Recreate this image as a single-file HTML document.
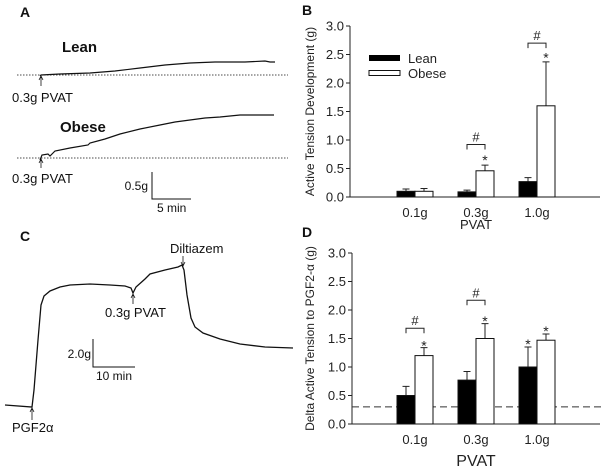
<!DOCTYPE html>
<html><head><meta charset="utf-8"><style>
body{margin:0;background:#fff}
svg{display:block;font-family:"Liberation Sans",sans-serif}
</style></head><body>
<svg id="s" width="605" height="468" viewBox="0 0 605 468">
<!-- Panel A -->
<g fill="#111" stroke="none">
<text x="20" y="17" font-size="14" font-weight="bold">A</text>
<text x="62" y="52" font-size="15" font-weight="bold">Lean</text>
<text x="60" y="132" font-size="15" font-weight="bold">Obese</text>
<text x="12" y="102" font-size="13">0.3g PVAT</text>
<text x="12" y="183" font-size="13">0.3g PVAT</text>
<text x="148" y="190" font-size="12" text-anchor="end">0.5g</text>
<text x="157" y="212" font-size="12">5 min</text>
</g>
<g stroke="#111" fill="none">
<line x1="17" y1="75" x2="288" y2="75" stroke-dasharray="1.5,1.5" stroke-width="0.8"/>
<line x1="17" y1="158" x2="288" y2="158" stroke-dasharray="1.5,1.5" stroke-width="0.8"/>
<polyline stroke-width="1.2" points="40,76 41,75 60,74 90,73 115,71 140,68 165,65 190,63 215,62 245,62 265,61 270,62 275,62"/>
<polyline stroke-width="1.2" points="40,160 42,155 48,154 50,156 55,151 70,148 88,145 90,143 105,139 120,134 140,129 160,125 175,122 190,120 205,118 220,117 240,115 260,115 274,115"/>
<path d="M41,86V77M39,80L41,76L43,80" stroke-width="0.8"/>
<path d="M41,168V160M39,163L41,159L43,163" stroke-width="0.8"/>
<path d="M152,172V199H191" stroke-width="1"/>
</g>
<!-- Panel C -->
<g fill="#111">
<text x="20" y="241" font-size="14" font-weight="bold">C</text>
<text x="170" y="253" font-size="13">Diltiazem</text>
<text x="105" y="317" font-size="13">0.3g PVAT</text>
<text x="12" y="432" font-size="13">PGF2α</text>
<text x="91" y="358" font-size="12" text-anchor="end">2.0g</text>
<text x="96" y="380" font-size="12">10 min</text>
</g>
<g stroke="#111" fill="none">
<polyline stroke-width="1.3" points="5,405 32,407 34,390 38,340 41,305 44,296 50,291 60,287 70,285 90,284 110,285 125,286 131,288 133,293 136,287 145,279 150,274 165,270 178,267 182,265 184,270 187,295 191,318 195,327 203,333 220,339 240,344 265,347 293,348"/>
<path d="M32,420V409M30,412L32,408L34,412" stroke-width="0.8"/>
<path d="M133,304V295M131,298L133,294L135,298" stroke-width="0.8"/>
<path d="M183,256V265M181,262L183,266L185,262" stroke-width="0.8"/>
<path d="M93,339V367H135" stroke-width="1"/>
</g>
<g id="B"></g>
<g id="D"></g>
</svg>
<script>
const cats=["0.1g","0.3g","1.0g"];
const yTicks=["0.0","0.5","1.0","1.5","2.0","2.5","3.0"];
const bLean=[0.1,0.09,0.27], bLeanErr=[0.04,0.03,0.07];
const bObese=[0.1,0.46,1.6], bObeseErr=[0.05,0.1,0.77];
const dLean=[0.5,0.77,1.0], dLeanErr=[0.16,0.15,0.35];
const dObese=[1.2,1.5,1.47], dObeseErr=[0.14,0.26,0.11];
const dBaseline=0.3;
const NS="http://www.w3.org/2000/svg";
function mk(p,t,a,txt){const e=document.createElementNS(NS,t);for(const k in a)e.setAttribute(k,a[k]);if(txt!=null)e.textContent=txt;p.appendChild(e);return e;}
function panel(g,cfg){
  const x0=cfg.x0,y0=cfg.y0,ppu=57;
  const Y=v=>y0-v*ppu;
  const cx=[415,476,537];
  const bw=18;
  const t=mk(g,'text',{x:302,y:cfg.lblY,'font-size':14,'font-weight':'bold',fill:'#111'},cfg.letter);
  
  const ax=mk(g,'path',{d:`M${x0},${Y(3)}V${y0}H600`,stroke:'#222',fill:'none','stroke-width':1});
  
  yTicks.forEach((s,i)=>{const v=parseFloat(s);
    const tk=mk(g,'line',{x1:x0-4,x2:x0,y1:Y(v),y2:Y(v),stroke:'#222'});
    
    const tl=mk(g,'text',{x:x0-6,y:Y(v)+4.5,'text-anchor':'end','font-size':13,fill:'#222'},s);
    });
  cats.forEach((c,i)=>{const tl=mk(g,'text',{x:cx[i],y:y0+20,'text-anchor':'middle','font-size':13,fill:'#222'},c);
    });
  const xt=mk(g,'text',{x:476,y:cfg.pvatY,'text-anchor':'middle','font-size':cfg.pvatSize,fill:'#222'},'PVAT');
  
  const yc=(Y(3)+y0)/2;
  const yt=mk(g,'text',{x:0,y:0,transform:`translate(314,${yc}) rotate(-90)`,'text-anchor':'middle','font-size':12,fill:'#222'},cfg.ytitle);
  
  if(cfg.base!=null){const dl=mk(g,'line',{x1:x0,x2:605,y1:Y(cfg.base),y2:Y(cfg.base),stroke:'#333','stroke-dasharray':'7,4'});
    }
  [[cfg.lean,cfg.leanErr,-1,'#000','lean'],[cfg.obese,cfg.obeseErr,0,'#fff','obese']].forEach(([vals,errs,off,fill,nm])=>{
    vals.forEach((v,i)=>{const bx=cx[i]+off*bw;
      const e=errs[i];
      const el=mk(g,'path',{d:`M${bx+bw/2},${Y(v)}V${Y(v+e)}M${bx+bw/2-3.5},${Y(v+e)}H${bx+bw/2+3.5}`,stroke:'#222',fill:'none'});
      
      const r=mk(g,'rect',{x:bx,y:Y(v),width:bw,height:y0-Y(v),fill:fill,stroke:'#111','stroke-width':1});
      });
  });
  cfg.stars.forEach(([i,off,v])=>{const s=mk(g,'text',{x:cx[i]+off*bw+bw/2,y:Y(v)+8,'text-anchor':'middle','font-size':14,fill:'#222'},'*');
    });
  cfg.hash.forEach(([i,v])=>{const yy=Y(v);
    const b=mk(g,'path',{d:`M${cx[i]-9},${yy+5}V${yy}H${cx[i]+9}V${yy+5}`,stroke:'#222',fill:'none'});
    
    const h=mk(g,'text',{x:cx[i],y:yy-3,'text-anchor':'middle','font-size':13,fill:'#222'},'#');
    });
}
const B=document.getElementById('B'),D=document.getElementById('D');
panel(B,{letter:'B',lblY:15,x0:350,y0:197,lean:bLean,leanErr:bLeanErr,obese:bObese,obeseErr:bObeseErr,
  ytitle:'Active Tension Development (g)',pvatY:229,pvatSize:13,base:null,
  stars:[[1,0,0.7],[2,0,2.5]],hash:[[1,0.92],[2,2.7]]});
panel(D,{letter:'D',lblY:237,x0:352,y0:424,lean:dLean,leanErr:dLeanErr,obese:dObese,obeseErr:dObeseErr,
  ytitle:'Delta Active Tension to PGF2-α (g)',pvatY:466,pvatSize:16,base:dBaseline,
  stars:[[0,0,1.43],[1,0,1.86],[2,-1,1.46],[2,0,1.68]],hash:[[0,1.68],[1,2.17]]});
// legend in B
const lg=mk(B,'g',{});

const l1=mk(lg,'rect',{x:369,y:55,width:31,height:6,fill:'#000'});

const t1=mk(lg,'text',{x:408,y:63,'font-size':13,fill:'#222'},'Lean');

const l2=mk(lg,'rect',{x:369,y:70.5,width:31,height:5,fill:'#fff',stroke:'#111'});

const t2=mk(lg,'text',{x:408,y:78,'font-size':13,fill:'#222'},'Obese');

</script>
</body></html>
